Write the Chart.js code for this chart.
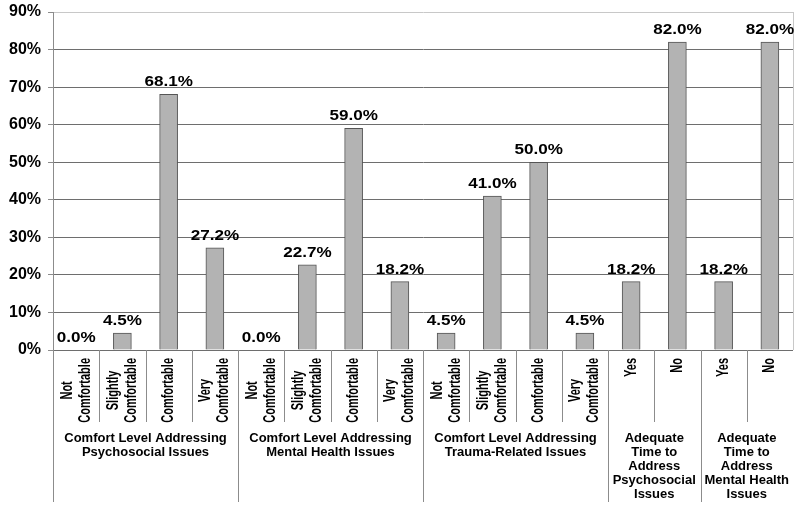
<!DOCTYPE html>
<html>
<head>
<meta charset="utf-8">
<script src="https://cdn.jsdelivr.net/npm/chart.js@4.4.1/dist/chart.umd.min.js"></script>
<style>
  html, body { margin: 0; padding: 0; background: #ffffff; }
  canvas { display: block; }
</style>
</head>
<body>
<canvas id="c" width="800" height="509"></canvas>
<script>
// ---- Data ----
const categoryLines = [
  ['Not', 'Comfortable'], ['Slightly', 'Comfortable'], ['Comfortable'], ['Very', 'Comfortable'],
  ['Not', 'Comfortable'], ['Slightly', 'Comfortable'], ['Comfortable'], ['Very', 'Comfortable'],
  ['Not', 'Comfortable'], ['Slightly', 'Comfortable'], ['Comfortable'], ['Very', 'Comfortable'],
  ['Yes'], ['No'],
  ['Yes'], ['No']
];
const values = [0.0, 4.5, 68.1, 27.2, 0.0, 22.7, 59.0, 18.2, 4.5, 41.0, 50.0, 4.5, 18.2, 82.0, 18.2, 82.0];
const groupLabels = [
  ['Comfort Level Addressing', 'Psychosocial Issues'],
  ['Comfort Level Addressing', 'Mental Health Issues'],
  ['Comfort Level Addressing', 'Trauma-Related Issues'],
  ['Adequate', 'Time to', 'Address', 'Psychosocial', 'Issues'],
  ['Adequate', 'Time to', 'Address', 'Mental Health', 'Issues']
];
const groupSizes = [4, 4, 4, 2, 2];
const yTickLabels = ['0%', '10%', '20%', '30%', '40%', '50%', '60%', '70%', '80%', '90%'];

const FONT = '"Liberation Sans", Arial, Helvetica, sans-serif';
const labels = categoryLines.map(l => l.join(' '));

const annotatePlugin = {
  id: 'annotate',
  afterDatasetsDraw(chart) {
    const ctx = chart.ctx;
    const area = chart.chartArea;
    const xs = chart.scales.x;
    const ys = chart.scales.y;
    const n = labels.length;
    const bounds = [];
    for (let i = 0; i <= n; i++) {
      if (i === 0) bounds.push(area.left);
      else if (i === n) bounds.push(area.right);
      else bounds.push((xs.getPixelForValue(i - 1) + xs.getPixelForValue(i)) / 2);
    }
    ctx.save();
    // right border of plot
    ctx.strokeStyle = '#c8c8c8';
    ctx.lineWidth = 1;
    ctx.beginPath();
    ctx.moveTo(Math.round(area.right) + 0.5, area.top);
    ctx.lineTo(Math.round(area.right) + 0.5, area.bottom);
    ctx.stroke();

    // value labels
    ctx.fillStyle = '#000';
    ctx.font = 'bold 14px ' + FONT;
    ctx.textAlign = 'center';
    ctx.textBaseline = 'alphabetic';
    const meta = chart.getDatasetMeta(0);
    meta.data.forEach((bar, i) => {
      const txt = values[i].toFixed(1) + '%';
      ctx.save();
      ctx.translate(bar.x, ys.getPixelForValue(values[i]) - 8);
      ctx.scale(1.22, 1);
      ctx.fillText(txt, 0, 0);
      ctx.restore();
    });

    // separators below axis
    const groupBoundaryIdx = new Set();
    let acc = 0;
    groupBoundaryIdx.add(0);
    groupSizes.forEach(s => { acc += s; if (acc < n) groupBoundaryIdx.add(acc); });
    ctx.strokeStyle = '#8c8c8c';
    ctx.lineWidth = 1;
    for (let i = 0; i < n; i++) {
      const x = Math.round(bounds[i]) + 0.5;
      const yEnd = groupBoundaryIdx.has(i) ? 502 : 422;
      ctx.beginPath();
      ctx.moveTo(x, area.bottom);
      ctx.lineTo(x, yEnd);
      ctx.stroke();
    }

    // category labels (rotated)
    ctx.fillStyle = '#000';
    ctx.font = 'bold 11px ' + FONT;
    ctx.textAlign = 'center';
    ctx.textBaseline = 'middle';
    categoryLines.forEach((lines, i) => {
      const cx = xs.getPixelForValue(i);
      const maxW = Math.max(...lines.map(l => ctx.measureText(l).width));
      const cy = area.bottom + 8 + maxW / 2;
      lines.forEach((line, j) => {
        const off = (j - (lines.length - 1) / 2) * 18;
        ctx.save();
        ctx.translate(cx + off, cy);
        ctx.rotate(-Math.PI / 2);
        ctx.scale(1, 1.45);
        ctx.fillText(line, 0, 0);
        ctx.restore();
      });
    });

    // group labels
    ctx.font = 'bold 13px ' + FONT;
    ctx.textAlign = 'center';
    ctx.textBaseline = 'middle';
    let start = 0;
    groupSizes.forEach((s, g) => {
      const cx = (bounds[start] + bounds[start + s]) / 2;
      groupLabels[g].forEach((line, j) => {
        ctx.fillText(line, cx, 438 + j * 14);
      });
      start += s;
    });
    ctx.restore();
  }
};

new Chart(document.getElementById('c'), {
  type: 'bar',
  data: {
    labels: labels,
    datasets: [{
      data: values,
      backgroundColor: '#b3b3b3',
      borderColor: '#555555',
      borderWidth: 1,
      barThickness: 18
    }]
  },
  options: {
    responsive: false,
    animation: false,
    devicePixelRatio: 1,
    layout: { padding: { top: 12, right: 7, bottom: 159, left: 0 } },
    plugins: { legend: { display: false }, tooltip: { enabled: false } },
    scales: {
      x: { display: false },
      y: {
        min: 0, max: 90,
        afterFit(scale) { scale.width = 53; scale.paddingTop = 0; scale.paddingBottom = 0; },
        ticks: {
          stepSize: 10,
          padding: 7,
          color: '#000',
          font: { family: FONT, size: 16, weight: 'bold' },
          callback: (v) => yTickLabels[Math.round(v / 10)]
        },
        grid: {
          color: (c) => (c.tick && c.tick.value === 90) ? '#c8c8c8' : '#6e6e6e',
          tickColor: '#8c8c8c',
          tickLength: 5,
          drawTicks: true
        },
        border: { color: '#8c8c8c', width: 1 }
      }
    }
  },
  plugins: [annotatePlugin]
});
</script>
</body>
</html>
